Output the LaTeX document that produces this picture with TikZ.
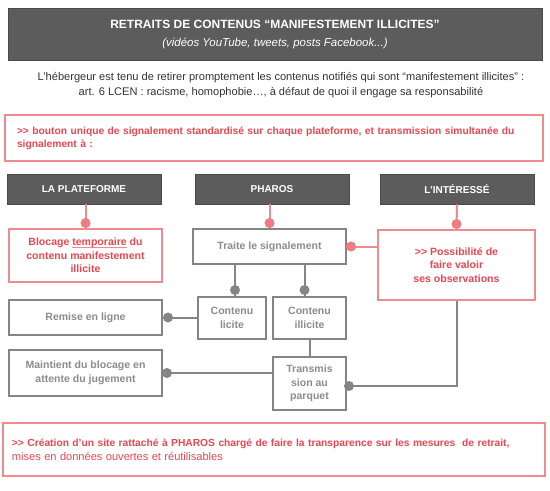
\documentclass[tikz,border=0pt]{standalone}
\usepackage{fontspec}
\setmainfont{Liberation Sans}
\usetikzlibrary{calc}
\definecolor{headgray}{HTML}{5C5C5C}
\definecolor{redtxt}{HTML}{E8474F}
\definecolor{redline}{HTML}{F08A8C}
\definecolor{reddot}{HTML}{EE7C80}
\definecolor{graytxt}{HTML}{8C8C8C}
\definecolor{grayline}{HTML}{858585}
\definecolor{paratxt}{HTML}{333333}
\newcommand\gtgt{>\kern0pt>}
\newcommand\myuline[1]{\setbox0\hbox{#1}\rlap{\color{redline}\rule[-1.6pt]{\wd0}{0.5pt}}\box0\relax}
\begin{document}
\begin{tikzpicture}[x=0.75pt,y=-0.75pt]
\tikzset{
  headbox/.style={fill=headgray, draw=headgray!80!black, line width=0.6pt, text=white,
    font=\bfseries\fontsize{7.5}{9}\selectfont, minimum width=154*0.75pt,
    minimum height=30*0.75pt, inner sep=0pt},
  graybox/.style={draw=grayline, line width=1.5pt, text=graytxt, align=center,
    font=\bfseries\fontsize{7.9}{10.2}\selectfont, inner sep=0pt},
  redbox/.style={draw=redline, line width=1.5pt, text=redtxt, align=center,
    font=\bfseries\fontsize{7.9}{10.2}\selectfont, inner sep=0pt},
  conn/.style={draw=grayline, line width=1.5pt},
  redconn/.style={draw=redline, line width=1.5pt},
  gdot/.style={fill=grayline},
  rdot/.style={fill=reddot}
}
\useasboundingbox (0,0) rectangle (550,490);
\fill[white] (0,0) rectangle (550,490);

% title
\node[fill=headgray, draw=headgray!80!black, line width=0.6pt, text=white, align=center,
  minimum width=534*0.75pt, minimum height=52*0.75pt, inner sep=0pt,
  font=\fontsize{9}{13.5}\selectfont] (title) at (275,34)
  {{\bfseries RETRAITS DE CONTENUS “MANIFESTEMENT ILLICITES”}\\
   {\itshape\fontsize{8.6}{13.5}\selectfont (vidéos YouTube, tweets, posts Facebook...)}};

% paragraph
\node[text=paratxt, align=center, inner sep=0pt, font=\fontsize{8.3}{10.8}\selectfont]
  (para) at (281,85)
  {L’hébergeur est tenu de retirer promptement les contenus notifiés qui sont “manifestement illicites” :\\
   art. 6 LCEN : racisme, homophobie…, à défaut de quoi il engage sa responsabilité};

% red box 1
\node[draw=redline, line width=1.5pt, text=redtxt, align=left, text width=514*0.75pt,
  inner xsep=12*0.75pt, inner ysep=0pt, minimum height=46*0.75pt,
  font=\bfseries\fontsize{7.7}{9.6}\selectfont] (signal) at (274,138)
  {\gtgt{} bouton unique de signalement standardisé sur chaque plateforme, et transmission simultanée du\\signalement à :};

% headers
\node[headbox] (plat) at (84,189) {LA PLATEFORME};
\node[headbox] (pharos) at (272,189) {PHAROS};
\node[headbox] (inter) at (457,189) {L’INTÉRESSÉ};

% boxes
\node[redbox, minimum width=153*0.75pt, minimum height=53*0.75pt] (blocage) at (85.5,255.5)
  {Blocage \myuline{temporaire} du\\contenu manifestement\\illicite};
\node[graybox, minimum width=153*0.75pt, minimum height=35*0.75pt] (traite) at (269.5,246.5)
  {Traite le signalement};
\node[redbox, minimum width=157*0.75pt, minimum height=70*0.75pt] (possib) at (456.5,265)
  {\gtgt{} Possibilité de\\faire valoir\\ses observations};
\node[graybox, minimum width=68*0.75pt, minimum height=42*0.75pt] (licite) at (232,318)
  {Contenu\\licite};
\node[graybox, minimum width=73*0.75pt, minimum height=42*0.75pt] (illicite) at (309.5,318)
  {Contenu\\illicite};
\node[graybox, minimum width=153*0.75pt, minimum height=35*0.75pt] (remise) at (85.5,317.5)
  {Remise en ligne};
\node[graybox, minimum width=153*0.75pt, minimum height=46*0.75pt] (maint) at (85.5,373)
  {Maintient du blocage en\\attente du jugement};
\node[graybox, minimum width=73*0.75pt, minimum height=53*0.75pt] (transm) at (309.5,383.5)
  {Transmis\\sion au\\parquet};

% bottom red box
\node[draw=redline, line width=1.5pt, text=redtxt, align=left, text width=524*0.75pt,
  inner xsep=9*0.75pt, inner ysep=0pt, minimum height=53*0.75pt,
  font=\fontsize{7.7}{10.4}\selectfont] (site) at (274,449.5)
  {{\bfseries \gtgt{} Création d’un site rattaché à PHAROS chargé de faire la transparence sur les mesures\ \ de retrait,}\\
   {\fontsize{8.3}{10.4}\selectfont mises en données ouvertes et réutilisables}};

% red connectors from headers
\draw[redconn] (plat.south -| blocage.north) -- (blocage.north);
\fill[rdot] ($(blocage.north)+(0,-5)$) circle[radius=5];
\draw[redconn] (traite.north |- pharos.south) -- (traite.north);
\fill[rdot] ($(traite.north)+(0,-5)$) circle[radius=5];
\draw[redconn] (inter.south) -- (possib.north);
\fill[rdot] ($(possib.north)+(0,-5)$) circle[radius=5];
\draw[redconn] (traite.east) -- (traite.east -| possib.west);
\fill[rdot] ($(traite.east)+(4,0)$) circle[radius=5];

% gray connectors
\coordinate (lt) at ($(licite.north)+(3,0)$);
\draw[conn] (lt |- traite.south) -- (lt);
\fill[gdot] ($(lt)+(0,-6)$) circle[radius=5];
\coordinate (it) at ($(illicite.north)+(-5,0)$);
\draw[conn] (it |- traite.south) -- (it);
\fill[gdot] ($(it)+(0,-6)$) circle[radius=5];
\draw[conn] (licite.west) -- (licite.west -| remise.east);
\fill[gdot] ($(remise.east)+(5,0)$) circle[radius=5];
\draw[conn] (illicite.south) -- (transm.north);
\draw[conn] (maint.east -| transm.west) -- (maint.east);
\fill[gdot] ($(maint.east)+(4,0)$) circle[radius=5];
\coordinate (te) at ($(transm.east)+(0,2.5)$);
\draw[conn] (te) -| (possib.south);
\fill[gdot] ($(te)+(2,0)$) circle[radius=5];
\end{tikzpicture}
\end{document}
